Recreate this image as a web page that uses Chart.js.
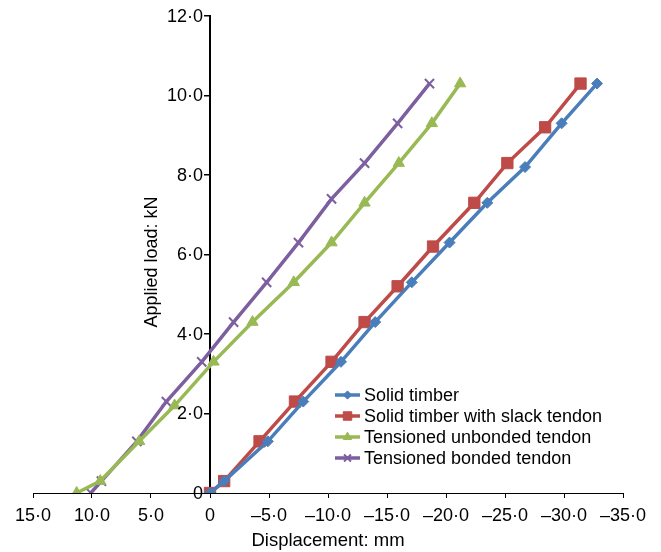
<!DOCTYPE html>
<html>
<head>
<meta charset="utf-8">
<script src="https://cdn.jsdelivr.net/npm/chart.js@4.4.1/dist/chart.umd.min.js"></script>
<style>
    html, body { margin: 0; padding: 0; background: #fff; }
    #wrap { width: 661px; height: 552px; }
</style>
</head>
<body>
<div id="wrap"><canvas id="load_disp_chart"></canvas></div>
<script>
const seriesNames = ['Solid timber', 'Solid timber with slack tendon', 'Tensioned unbonded tendon', 'Tensioned bonded tendon'];

// displacement (mm) and applied load (kN) for each test
const solidDisp = [0, -1.2, -4.9, -7.9, -11.1, -14.0, -17.1, -20.3, -23.5, -26.7, -29.8, -32.8];
const solidLoad = [0, 0.3, 1.3, 2.3, 3.3, 4.3, 5.3, 6.3, 7.3, 8.2, 9.3, 10.3];

const slackDisp = [0, -1.2, -4.2, -7.2, -10.3, -13.1, -15.9, -18.9, -22.4, -25.2, -28.4, -31.4];
const slackLoad = [0, 0.3, 1.3, 2.3, 3.3, 4.3, 5.2, 6.2, 7.3, 8.3, 9.2, 10.3];

const unbondedDisp = [11.3, 9.3, 6.0, 3.0, -0.3, -3.6, -7.1, -10.3, -13.1, -16.0, -18.8, -21.2];
const unbondedLoad = [0, 0.3, 1.3, 2.2, 3.3, 4.3, 5.3, 6.3, 7.3, 8.3, 9.3, 10.3];

const bondedDisp = [10.1, 9.2, 6.2, 3.7, 0.7, -2.0, -4.8, -7.5, -10.3, -13.1, -15.9, -18.6];
const bondedLoad = [0, 0.3, 1.3, 2.3, 3.3, 4.3, 5.3, 6.3, 7.4, 8.3, 9.3, 10.3];

const xTickValues = [15, 10, 5, 0, -5, -10, -15, -20, -25, -30, -35];
const xTickLabels = ['15·0', '10·0', '5·0', '0', '–5·0', '–10·0', '–15·0', '–20·0', '–25·0', '–30·0', '–35·0'];
const yTickValues = [0, 2, 4, 6, 8, 10, 12];
const yTickLabels = ['0', '2·0', '4·0', '6·0', '8·0', '10·0', '12·0'];

const FONT = "'Liberation Sans', Arial, sans-serif";

function toPoints(xs, ys) {
    return xs.map((x, i) => ({ x: x, y: ys[i] }));
}

function lookup(values, labels, v) {
    const i = values.findIndex(t => Math.abs(t - v) < 1e-6);
    return i >= 0 ? labels[i] : '';
}

// legend drawn inside the plot, lower right, like the Excel original
const insideLegend = {
    id: 'insideLegend',
    afterDraw(chart) {
        const ctx = chart.ctx;
        const left = 335, top = 395, rowH = 21;
        ctx.save();
        ctx.font = '18px ' + FONT;
        ctx.textBaseline = 'middle';
        ctx.textAlign = 'left';
        chart.data.datasets.forEach((ds, i) => {
            const y = top + i * rowH;
            ctx.strokeStyle = ds.borderColor;
            ctx.lineWidth = 3.5;
            ctx.beginPath();
            ctx.moveTo(left, y);
            ctx.lineTo(left + 25, y);
            ctx.stroke();
            ctx.fillStyle = ds.pointBackgroundColor;
            ctx.strokeStyle = ds.pointBorderColor;
            ctx.lineWidth = ds.pointBorderWidth;
            Chart.helpers.drawPoint(ctx, {
                pointStyle: ds.pointStyle,
                radius: ds.pointRadius * 0.75,
                rotation: 0,
                borderWidth: ds.pointBorderWidth
            }, left + 12.5, y);
            ctx.fillStyle = '#000';
            ctx.fillText(ds.label, left + 29, y + 1);
        });
        ctx.restore();
    }
};

// the y axis sits at x = 0, so its labels and title are drawn beside that line
const yAxisText = {
    id: 'yAxisText',
    afterDraw(chart) {
        const ctx = chart.ctx;
        const yScale = chart.scales.y;
        const x0 = chart.scales.x.getPixelForValue(0);
        ctx.save();
        ctx.fillStyle = '#000';
        ctx.font = '18px ' + FONT;
        ctx.textAlign = 'right';
        ctx.textBaseline = 'middle';
        yTickValues.forEach((v, i) => {
            ctx.fillText(yTickLabels[i], x0 - 7, yScale.getPixelForValue(v) + 1);
        });
        ctx.translate(x0 - 58, 262);
        ctx.rotate(-Math.PI / 2);
        ctx.textAlign = 'center';
        ctx.fillText('Applied load: kN', 0, 0);
        ctx.restore();
    }
};

const ctx1 = document.getElementById('load_disp_chart');

new Chart(ctx1, {
    type: 'line',
    data: {
        datasets: [{
            label: seriesNames[0],
            data: toPoints(solidDisp, solidLoad),
            borderColor: '#4A7EBB',
            pointBackgroundColor: '#4A7EBB',
            pointBorderColor: '#4A7EBB',
            pointBorderWidth: 1,
            pointStyle: 'rectRot',
            pointRadius: 5.5
        }, {
            label: seriesNames[1],
            data: toPoints(slackDisp, slackLoad),
            borderColor: '#BE4B48',
            pointBackgroundColor: '#BE4B48',
            pointBorderColor: '#BE4B48',
            pointBorderWidth: 1,
            pointStyle: 'rect',
            pointRadius: 8
        }, {
            label: seriesNames[2],
            data: toPoints(unbondedDisp, unbondedLoad),
            borderColor: '#98B954',
            pointBackgroundColor: '#98B954',
            pointBorderColor: '#98B954',
            pointBorderWidth: 1,
            pointStyle: 'triangle',
            pointRadius: 6.5
        }, {
            label: seriesNames[3],
            data: toPoints(bondedDisp, bondedLoad),
            borderColor: '#7D5FA0',
            pointBackgroundColor: '#7D5FA0',
            pointBorderColor: '#7D5FA0',
            pointBorderWidth: 2,
            pointStyle: 'crossRot',
            pointRadius: 6.5
        }]
    },
    options: {
        animation: false,
        responsive: true,
        maintainAspectRatio: false,
        elements: {
            line: { borderWidth: 3.5, tension: 0 }
        },
        layout: {
            padding: { left: 33, right: 38, top: 16, bottom: 0 }
        },
        plugins: {
            legend: { display: false },
            tooltip: { enabled: false }
        },
        scales: {
            x: {
                type: 'linear',
                position: 'bottom',
                reverse: true,
                min: -35,
                max: 15,
                afterBuildTicks: (scale) => { scale.ticks = xTickValues.map(v => ({ value: v })); },
                afterFit: (scale) => { scale.height = 59; }, // keep the plot bottom at the same place as the original
                ticks: {
                    color: '#000',
                    font: { family: FONT, size: 18 },
                    padding: 7,
                    maxRotation: 0,
                    callback: (v) => lookup(xTickValues, xTickLabels, v)
                },
                grid: {
                    drawOnChartArea: false,
                    drawTicks: true,
                    tickLength: 5,
                    color: '#000'
                },
                border: { color: '#000', width: 1 },
                title: {
                    display: true,
                    text: 'Displacement: mm',
                    color: '#000',
                    font: { family: FONT, size: 18.5 },
                    padding: { top: 0, bottom: 0 }
                }
            },
            y: {
                type: 'linear',
                position: { x: 0 },
                min: 0,
                max: 12,
                afterBuildTicks: (scale) => { scale.ticks = yTickValues.map(v => ({ value: v })); },
                ticks: { display: false },
                grid: {
                    drawOnChartArea: false,
                    drawTicks: true,
                    tickLength: 5,
                    color: '#000',
                    lineWidth: 1.5
                },
                border: { color: '#000', width: 2 }
            }
        }
    },
    plugins: [insideLegend, yAxisText]
});
</script>
</body>
</html>
